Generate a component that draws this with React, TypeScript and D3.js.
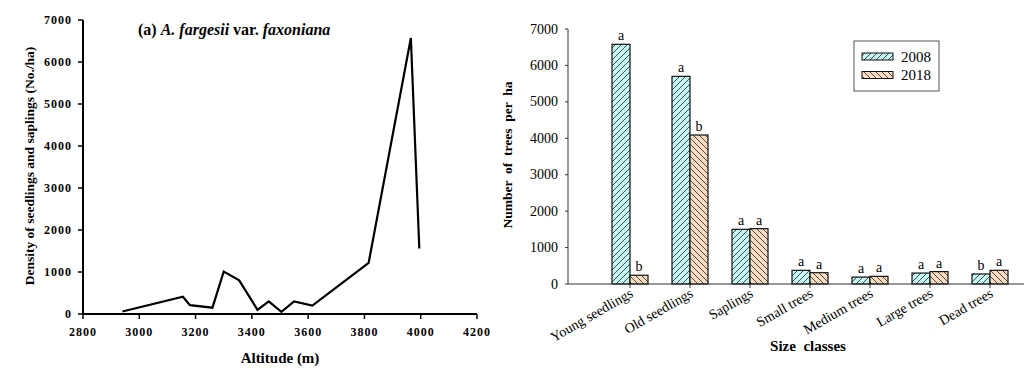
import React, { useEffect, useRef } from 'react';
import * as d3 from 'd3';

// panel (a): seedling/sapling density along altitude
const altitudes = [2940, 3155, 3180, 3260, 3300, 3355, 3420, 3460, 3505, 3550, 3615, 3815, 3965, 3995];
const densities = [60, 410, 210, 150, 1010, 800, 100, 300, 50, 300, 200, 1220, 6570, 1560];
const altitudeTicks = [2800, 3000, 3200, 3400, 3600, 3800, 4000, 4200];
const densityTicks = [0, 1000, 2000, 3000, 4000, 5000, 6000, 7000];

// panel (b): trees per ha by size class
const sizeClasses = ['Young seedlings', 'Old seedlings', 'Saplings', 'Small trees', 'Medium trees', 'Large trees', 'Dead trees'];
const years = ['2008', '2018'];
const trees2008 = [6580, 5700, 1500, 375, 190, 300, 275];
const trees2018 = [240, 4090, 1520, 310, 210, 340, 375];
const letters2008 = ['a', 'a', 'a', 'a', 'a', 'a', 'b'];
const letters2018 = ['b', 'b', 'a', 'a', 'a', 'a', 'a'];
const treeTicks = [0, 1000, 2000, 3000, 4000, 5000, 6000, 7000];

const FONT = "'Liberation Serif', serif";

export default function App() {
    const svgRef = useRef<SVGSVGElement>(null);

    useEffect(() => {
        const svg = d3.select(svgRef.current);
        svg.selectAll('*').remove();

        // ---------- left chart ----------
        const x = d3.scaleLinear().domain([2800, 4200]).range([83, 477]);
        const y = d3.scaleLinear().domain([0, 7000]).range([314, 20]);
        const left = svg.append('g').style('font-family', FONT).style('font-weight', 'bold');

        left.append('line')
            .attr('x1', x(2800)).attr('x2', x(4200))
            .attr('y1', y(0)).attr('y2', y(0))
            .attr('stroke', '#000').attr('stroke-width', 2);
        left.append('line')
            .attr('x1', x(2800)).attr('x2', x(2800))
            .attr('y1', y(0)).attr('y2', y(7000))
            .attr('stroke', '#000').attr('stroke-width', 2);

        left.selectAll('.ytick').data(densityTicks).enter().append('line')
            .attr('x1', x(2800) - 5).attr('x2', x(2800))
            .attr('y1', d => y(d)).attr('y2', d => y(d))
            .attr('stroke', '#000').attr('stroke-width', 1.5);
        left.selectAll('.ylab').data(densityTicks).enter().append('text')
            .attr('x', 72).attr('y', d => y(d) + 4)
            .attr('text-anchor', 'end').attr('font-size', 12).attr('letter-spacing', 1)
            .text(d => d);

        left.selectAll('.xtick').data(altitudeTicks).enter().append('line')
            .attr('x1', d => x(d)).attr('x2', d => x(d))
            .attr('y1', y(0)).attr('y2', y(0) + 5)
            .attr('stroke', '#000').attr('stroke-width', 1.5);
        left.selectAll('.xlab').data(altitudeTicks).enter().append('text')
            .attr('x', d => x(d)).attr('y', 336)
            .attr('text-anchor', 'middle').attr('font-size', 12).attr('letter-spacing', 1)
            .text(d => d);

        left.append('text')
            .attr('x', 280).attr('y', 363)
            .attr('text-anchor', 'middle').attr('font-size', 15)
            .text('Altitude (m)');
        left.append('text')
            .attr('transform', 'translate(34,166) rotate(-90)')
            .attr('text-anchor', 'middle').attr('font-size', 13.5)
            .text('Density of seedlings and saplings (No./ha)');

        const title = left.append('text').attr('x', 138).attr('y', 35).attr('font-size', 16);
        title.append('tspan').text('(a)  ');
        title.append('tspan').style('font-style', 'italic').text('A. fargesii');
        title.append('tspan').text(' var. ');
        title.append('tspan').style('font-style', 'italic').text('faxoniana');

        const line = d3.line<number>()
            .x((d, i) => x(altitudes[i]))
            .y(d => y(d));
        left.append('path')
            .attr('d', line(densities))
            .attr('fill', 'none').attr('stroke', '#000').attr('stroke-width', 2.2);

        // ---------- right chart ----------
        const defs = svg.append('defs');
        const fills = ['#c4f6f4', '#fbdcc2'];
        const hatches = [
            'M-1,1 l2,-2 M0,6 l6,-6 M5,7 l2,-2',
            'M-1,5 l2,2 M0,0 l6,6 M5,-1 l2,2'
        ];
        years.forEach((yr, i) => {
            const p = defs.append('pattern')
                .attr('id', 'hatch' + yr)
                .attr('patternUnits', 'userSpaceOnUse')
                .attr('width', 6).attr('height', 6);
            p.append('rect').attr('width', 6).attr('height', 6).attr('fill', fills[i]);
            p.append('path').attr('d', hatches[i]).attr('stroke', '#222').attr('stroke-width', 0.8);
        });

        const xb = d3.scaleBand().domain(sizeClasses).range([600, 1020]).paddingInner(0.4).paddingOuter(0.2);
        const xs = d3.scaleBand().domain(years).range([0, xb.bandwidth()]);
        const yb = d3.scaleLinear().domain([0, 7000]).range([284, 29]);
        const right = svg.append('g').style('font-family', FONT);

        right.append('line')
            .attr('x1', 568).attr('x2', 568)
            .attr('y1', yb(0)).attr('y2', yb(7000))
            .attr('stroke', '#333').attr('stroke-width', 1);
        right.selectAll('.ytick').data(treeTicks).enter().append('line')
            .attr('x1', 565).attr('x2', 568)
            .attr('y1', d => yb(d)).attr('y2', d => yb(d))
            .attr('stroke', '#333').attr('stroke-width', 1);
        right.selectAll('.ylab').data(treeTicks).enter().append('text')
            .attr('x', 558).attr('y', d => yb(d) + 4.5)
            .attr('text-anchor', 'end').attr('font-size', 14)
            .text(d => d);

        const series = [trees2008, trees2018];
        const letters = [letters2008, letters2018];
        years.forEach((yr, si) => {
            right.selectAll('.bar' + yr).data(sizeClasses).enter().append('rect')
                .attr('x', d => (xb(d) as number) + (xs(yr) as number))
                .attr('width', xs.bandwidth())
                .attr('y', (d, i) => yb(series[si][i]))
                .attr('height', (d, i) => yb(0) - yb(series[si][i]))
                .attr('fill', 'url(#hatch' + yr + ')')
                .attr('stroke', '#111').attr('stroke-width', 1.2);
            right.selectAll('.let' + yr).data(sizeClasses).enter().append('text')
                .attr('x', d => (xb(d) as number) + (xs(yr) as number) + xs.bandwidth() / 2)
                .attr('y', (d, i) => yb(series[si][i]) - 4)
                .attr('text-anchor', 'middle').attr('font-size', 14)
                .text((d, i) => letters[si][i]);
        });

        right.append('line')
            .attr('x1', 568).attr('x2', 1024)
            .attr('y1', yb(0)).attr('y2', yb(0))
            .attr('stroke', '#333').attr('stroke-width', 1);
        right.selectAll('.xtick').data(sizeClasses).enter().append('line')
            .attr('x1', d => (xb(d) as number) + xb.bandwidth() / 2)
            .attr('x2', d => (xb(d) as number) + xb.bandwidth() / 2)
            .attr('y1', yb(0)).attr('y2', yb(0) + 4)
            .attr('stroke', '#333');
        right.selectAll('.xlab').data(sizeClasses).enter().append('text')
            .attr('transform', d => `translate(${(xb(d) as number) + xb.bandwidth() / 2 + 4},${yb(0) + 12}) rotate(-30)`)
            .attr('text-anchor', 'end').attr('font-size', 14)
            .text(d => d);

        right.append('text')
            .attr('x', 808).attr('y', 351)
            .attr('text-anchor', 'middle').attr('font-size', 15).style('font-weight', 'bold')
            .style('white-space', 'pre')
            .text('Size  classes');
        right.append('text')
            .attr('transform', 'translate(512,155) rotate(-90)')
            .attr('text-anchor', 'middle').attr('font-size', 13.5).style('font-weight', 'bold')
            .style('white-space', 'pre')
            .text('Number  of  trees  per  ha');

        // legend
        const legend = right.append('g');
        legend.append('rect')
            .attr('x', 854).attr('y', 41).attr('width', 85).attr('height', 50)
            .attr('fill', '#fff').attr('stroke', '#555');
        years.forEach((yr, i) => {
            legend.append('rect')
                .attr('x', 862).attr('y', 53 + i * 18.5).attr('width', 31).attr('height', 7)
                .attr('fill', 'url(#hatch' + yr + ')')
                .attr('stroke', '#111').attr('stroke-width', 1);
            legend.append('text')
                .attr('x', 901).attr('y', 62 + i * 18)
                .attr('font-size', 15)
                .text(yr);
        });
    }, []);

    return (
        <svg ref={svgRef} width={1024} height={370}
            style={{ position: 'absolute', left: 0, top: 0, background: '#fff', fontFamily: FONT }} />
    );
}
